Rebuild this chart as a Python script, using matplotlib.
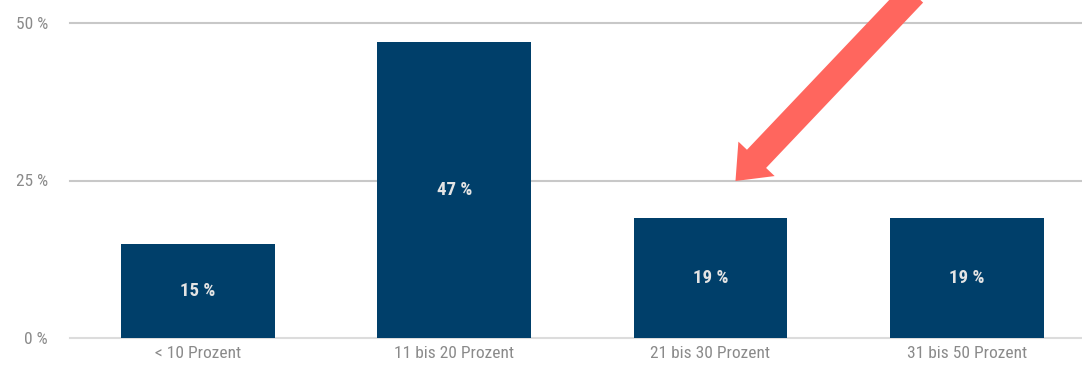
import matplotlib
matplotlib.use("Agg")
import matplotlib.pyplot as plt
from matplotlib import font_manager

categories = ["< 10 Prozent", "11 bis 20 Prozent", "21 bis 30 Prozent", "31 bis 50 Prozent"]
values = [15, 47, 19, 19]
yticks = [0, 25, 50]

names = {f.name for f in font_manager.fontManager.ttflist}
fam = "DejaVu Sans"
for cand in ["Liberation Sans Narrow", "DejaVu Sans Condensed", "Roboto Condensed"]:
    if cand in names:
        fam = cand
        break
plt.rcParams["font.family"] = [fam, "DejaVu Sans"]
plt.rcParams["font.stretch"] = "condensed"

fig = plt.figure(figsize=(10.82, 3.66), dpi=100)
ax = fig.add_axes([70 / 1082, (366 - 338) / 366, 1012 / 1082, (338 - 23) / 366])

x = range(len(categories))
bars = ax.bar(x, values, width=0.6, color="#003F6A", zorder=3)
for b, v in zip(bars, values):
    ax.text(b.get_x() + b.get_width() / 2, v / 2, f"{v} %", ha="center", va="center",
            color="#E4E4E4", fontsize=13.5, fontweight="bold", zorder=4)

ax.set_xlim(-0.5, 3.45)
ax.set_ylim(0, 50)
ax.set_yticks(yticks)
ax.set_yticklabels([f"{t} %" for t in yticks])
ax.set_xticks(list(x))
ax.set_xticklabels(categories)
ax.tick_params(length=0, colors="#8A8A8A", labelsize=12.5)
ax.tick_params(axis="y", pad=16)
ax.tick_params(axis="x", pad=6)
for s in ax.spines.values():
    s.set_visible(False)
for t in yticks:
    ax.axhline(t, color="#C8C8C8" if t else "#DCDCDC", lw=1.5, zorder=1, clip_on=False)

ax.annotate("", xy=(2.09, 24.6), xytext=(2.8, 55),
            arrowprops=dict(arrowstyle="simple,head_width=1.8,head_length=1.1,tail_width=0.95",
                            color="#FF665E", lw=0, mutation_scale=20),
            annotation_clip=False, zorder=5)

fig.savefig("out.png", dpi=100)
